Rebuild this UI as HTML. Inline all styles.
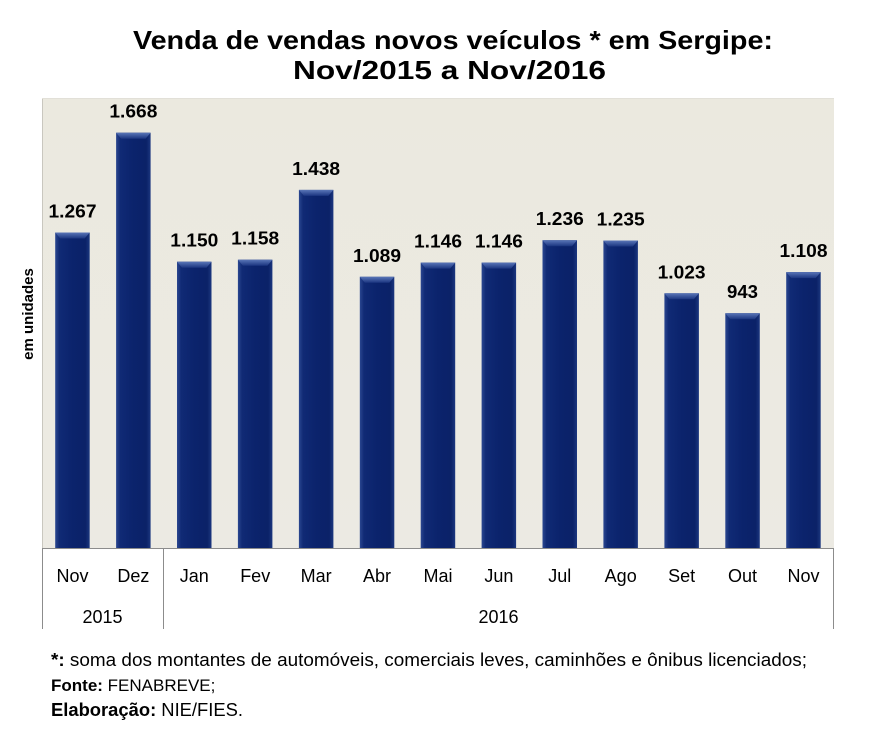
<!DOCTYPE html>
<html>
<head>
<meta charset="utf-8">
<style>
  html, body { margin: 0; padding: 0; background: #ffffff; }
  svg { display: block; }
  text { font-family: "Liberation Sans", Arial, sans-serif; }
</style>
</head>
<body>
<svg width="873" height="744" viewBox="0 0 873 744" xmlns="http://www.w3.org/2000/svg">
  <defs>
    <linearGradient id="bg" x1="0" y1="0" x2="0" y2="1">
      <stop offset="0" stop-color="#ebe9df"/>
      <stop offset="1" stop-color="#eceae3"/>
    </linearGradient>
    <linearGradient id="barg" x1="0" y1="0" x2="1" y2="0">
      <stop offset="0" stop-color="#2b4790"/>
      <stop offset="0.12" stop-color="#102a75"/>
      <stop offset="0.5" stop-color="#0b236c"/>
      <stop offset="0.88" stop-color="#0b2268"/>
      <stop offset="1" stop-color="#1c377f"/>
    </linearGradient>
    <linearGradient id="bevel" x1="0" y1="0" x2="0" y2="1">
      <stop offset="0" stop-color="#5a76b8"/>
      <stop offset="1" stop-color="#1b3580"/>
    </linearGradient>
  </defs>

  <!-- Title -->
  <text x="133" y="49" font-size="26" font-weight="bold" fill="#000" textLength="640" lengthAdjust="spacingAndGlyphs">Venda de vendas novos veículos * em Sergipe:</text>
  <text x="293" y="79" font-size="26" font-weight="bold" fill="#000" textLength="313" lengthAdjust="spacingAndGlyphs">Nov/2015 a Nov/2016</text>

  <!-- Plot area -->
  <rect x="42" y="98" width="792" height="450" fill="url(#bg)"/>
  <line x1="42.5" y1="98" x2="42.5" y2="548" stroke="#c9c7bf" stroke-width="1"/>
  <line x1="42" y1="98.5" x2="834" y2="98.5" stroke="#e2e0d8" stroke-width="1"/>

  <!-- Y axis label -->
  <text x="0" y="0" font-size="15" font-weight="bold" fill="#000" text-anchor="middle" transform="translate(33,314) rotate(-90)">em unidades</text>

  <!-- Category axis box -->
  <line x1="42" y1="548.5" x2="834" y2="548.5" stroke="#8c8c8c" stroke-width="1"/>
  <line x1="42.5" y1="548" x2="42.5" y2="629" stroke="#8c8c8c" stroke-width="1"/>
  <line x1="163.5" y1="548" x2="163.5" y2="629" stroke="#8c8c8c" stroke-width="1"/>
  <line x1="833.5" y1="548" x2="833.5" y2="629" stroke="#8c8c8c" stroke-width="1"/>

  <g font-size="18" fill="#000" text-anchor="middle">
    <text x="72.5" y="582">Nov</text>
    <text x="133.4" y="582">Dez</text>
    <text x="194.3" y="582">Jan</text>
    <text x="255.2" y="582">Fev</text>
    <text x="316.1" y="582">Mar</text>
    <text x="377.0" y="582">Abr</text>
    <text x="438.0" y="582">Mai</text>
    <text x="498.9" y="582">Jun</text>
    <text x="559.8" y="582">Jul</text>
    <text x="620.7" y="582">Ago</text>
    <text x="681.6" y="582">Set</text>
    <text x="742.5" y="582">Out</text>
    <text x="803.5" y="582">Nov</text>
    <text x="102.5" y="623">2015</text>
    <text x="498.5" y="623">2016</text>
  </g>

  <!-- Footnotes -->
  <text x="51" y="666" font-size="18" fill="#000" textLength="756" lengthAdjust="spacingAndGlyphs"><tspan font-weight="bold">*:</tspan> soma dos montantes de automóveis, comerciais leves, caminhões e ônibus licenciados;</text>
  <text x="51" y="691" font-size="17" fill="#000"><tspan font-weight="bold">Fonte:</tspan> FENABREVE;</text>
  <text x="51" y="716" font-size="18" fill="#000" textLength="192" lengthAdjust="spacingAndGlyphs"><tspan font-weight="bold">Elaboração:</tspan> NIE/FIES.</text>

  <!-- Bars -->
  <g>
    <rect x="55.2" y="232.5" width="34.5" height="315.5" fill="url(#barg)"/>
    <polygon points="55.2,232.5 89.7,232.5 84.7,238.5 60.2,238.5" fill="url(#bevel)"/>
    <rect x="116.1" y="132.7" width="34.5" height="415.3" fill="url(#barg)"/>
    <polygon points="116.1,132.7 150.6,132.7 145.6,138.7 121.1,138.7" fill="url(#bevel)"/>
    <rect x="177.0" y="261.7" width="34.5" height="286.3" fill="url(#barg)"/>
    <polygon points="177.0,261.7 211.5,261.7 206.5,267.7 182.0,267.7" fill="url(#bevel)"/>
    <rect x="237.9" y="259.7" width="34.5" height="288.3" fill="url(#barg)"/>
    <polygon points="237.9,259.7 272.4,259.7 267.4,265.7 242.9,265.7" fill="url(#bevel)"/>
    <rect x="298.9" y="189.9" width="34.5" height="358.1" fill="url(#barg)"/>
    <polygon points="298.9,189.9 333.4,189.9 328.4,195.9 303.9,195.9" fill="url(#bevel)"/>
    <rect x="359.8" y="276.8" width="34.5" height="271.2" fill="url(#barg)"/>
    <polygon points="359.8,276.8 394.3,276.8 389.3,282.8 364.8,282.8" fill="url(#bevel)"/>
    <rect x="420.7" y="262.6" width="34.5" height="285.4" fill="url(#barg)"/>
    <polygon points="420.7,262.6 455.2,262.6 450.2,268.6 425.7,268.6" fill="url(#bevel)"/>
    <rect x="481.6" y="262.6" width="34.5" height="285.4" fill="url(#barg)"/>
    <polygon points="481.6,262.6 516.1,262.6 511.1,268.6 486.6,268.6" fill="url(#bevel)"/>
    <rect x="542.5" y="240.2" width="34.5" height="307.8" fill="url(#barg)"/>
    <polygon points="542.5,240.2 577.0,240.2 572.0,246.2 547.5,246.2" fill="url(#bevel)"/>
    <rect x="603.4" y="240.5" width="34.5" height="307.5" fill="url(#barg)"/>
    <polygon points="603.4,240.5 637.9,240.5 632.9,246.5 608.4,246.5" fill="url(#bevel)"/>
    <rect x="664.4" y="293.3" width="34.5" height="254.7" fill="url(#barg)"/>
    <polygon points="664.4,293.3 698.9,293.3 693.9,299.3 669.4,299.3" fill="url(#bevel)"/>
    <rect x="725.3" y="313.2" width="34.5" height="234.8" fill="url(#barg)"/>
    <polygon points="725.3,313.2 759.8,313.2 754.8,319.2 730.3,319.2" fill="url(#bevel)"/>
    <rect x="786.2" y="272.1" width="34.5" height="275.9" fill="url(#barg)"/>
    <polygon points="786.2,272.1 820.7,272.1 815.7,278.1 791.2,278.1" fill="url(#bevel)"/>
  </g>

  <!-- Data labels -->
  <g font-size="18" font-weight="bold" fill="#000" text-anchor="middle">
    <text x="72.5" y="217.5" textLength="48" lengthAdjust="spacingAndGlyphs">1.267</text>
    <text x="133.4" y="117.7" textLength="48" lengthAdjust="spacingAndGlyphs">1.668</text>
    <text x="194.3" y="246.7" textLength="48" lengthAdjust="spacingAndGlyphs">1.150</text>
    <text x="255.2" y="244.7" textLength="48" lengthAdjust="spacingAndGlyphs">1.158</text>
    <text x="316.1" y="174.9" textLength="48" lengthAdjust="spacingAndGlyphs">1.438</text>
    <text x="377.0" y="261.8" textLength="48" lengthAdjust="spacingAndGlyphs">1.089</text>
    <text x="438.0" y="247.6" textLength="48" lengthAdjust="spacingAndGlyphs">1.146</text>
    <text x="498.9" y="247.6" textLength="48" lengthAdjust="spacingAndGlyphs">1.146</text>
    <text x="559.8" y="225.2" textLength="48" lengthAdjust="spacingAndGlyphs">1.236</text>
    <text x="620.7" y="225.5" textLength="48" lengthAdjust="spacingAndGlyphs">1.235</text>
    <text x="681.6" y="278.3" textLength="48" lengthAdjust="spacingAndGlyphs">1.023</text>
    <text x="742.5" y="298.2" textLength="31" lengthAdjust="spacingAndGlyphs">943</text>
    <text x="803.5" y="257.1" textLength="48" lengthAdjust="spacingAndGlyphs">1.108</text>
  </g>
</svg>
</body>
</html>
